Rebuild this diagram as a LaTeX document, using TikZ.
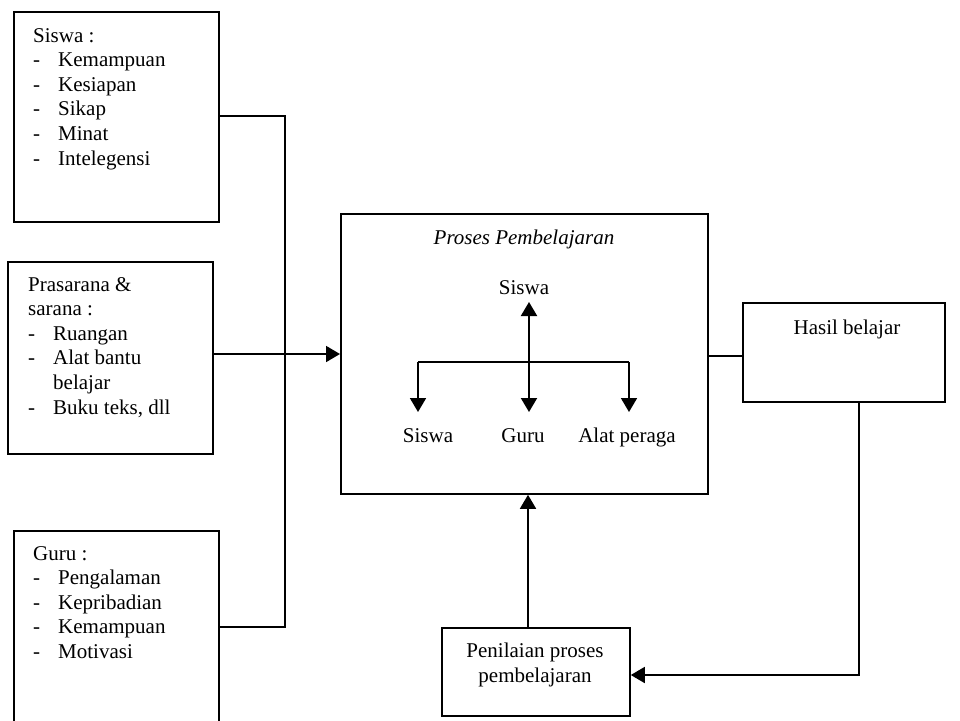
\documentclass[tikz,border=0pt]{standalone}
\usepackage{fontspec}
\setmainfont{Liberation Serif}
\usetikzlibrary{arrows.meta}
\newcommand\dashitem[1]{\makebox[25pt][l]{-}#1}
\begin{document}
\begin{tikzpicture}[x=1pt,y=-1pt,
  box/.style={draw, line width=1.8pt, rectangle, inner sep=0pt, anchor=north west},
  txt/.style={anchor=base west, inner sep=0pt, font=\fontsize{21}{24.6}\selectfont},
  ctxt/.style={anchor=base, inner sep=0pt, font=\fontsize{21}{24.6}\selectfont},
  conn/.style={line width=1.8pt},
  arr/.style={line width=1.8pt, -{Triangle[length=14pt,width=16pt]}},
  darr/.style={line width=2pt, {Triangle[length=14pt,width=16pt]}-{Triangle[length=14pt,width=16pt]}}]
\useasboundingbox (0,0) rectangle (960,720);
\clip (0,0) rectangle (960,720);
\fill[white] (0,0) rectangle (960,720);

% left boxes
\node[box, minimum width=205pt, minimum height=210pt] (siswa) at (13,11) {};
\node[box, minimum width=205pt, minimum height=192pt] (sarana) at (7,261) {};
\node[box, minimum width=205pt, minimum height=200pt] (guru) at (13,530) {};

\foreach \t [count=\i from 0] in {{Siswa :},{\dashitem{Kemampuan}},{\dashitem{Kesiapan}},{\dashitem{Sikap}},{\dashitem{Minat}},{\dashitem{Intelegensi}}}
  \node[txt] (st\i) at (33,42+24.6*\i) {\t};

\foreach \t [count=\i from 0] in {{Prasarana \&},{sarana :},{\dashitem{Ruangan}},{\dashitem{Alat bantu}},{\hspace*{25pt}belajar},{\dashitem{Buku teks, dll}}}
  \node[txt] (pt\i) at (28,291+24.6*\i) {\t};

\foreach \t [count=\i from 0] in {{Guru :},{\dashitem{Pengalaman}},{\dashitem{Kepribadian}},{\dashitem{Kemampuan}},{\dashitem{Motivasi}}}
  \node[txt] (gt\i) at (33,560+24.6*\i) {\t};

% centre box
\node[box, minimum width=367pt, minimum height=280pt] (proses) at (340,213) {};
\node[ctxt, font=\fontsize{21}{24.6}\selectfont\itshape] (title) at (524,244) {Proses Pembelajaran};
\node[ctxt] (top) at (524,294) {Siswa};
\node[ctxt] (ls) at (428,442) {Siswa};
\node[ctxt] (lg) at (523,442) {Guru};
\node[ctxt] (la) at (627,442) {Alat peraga};

\coordinate (uptip) at (529,302);
\coordinate (dntip) at (529,412);
\coordinate (bl) at (418,362);
\coordinate (br) at (629,362);
\draw[darr] (uptip) -- (dntip);
\draw[line width=1.4pt] (bl) -- (br);
\draw[arr] (bl) -- (418,412);
\draw[arr] (br) -- (629,412);

% hasil
\node[box, minimum width=202pt, minimum height=99pt] (hasil) at (742,302) {};
\node[ctxt] (ht) at (847,334) {Hasil belajar};

% penilaian
\node[box, minimum width=188pt, minimum height=88pt] (nilai) at (441,627) {};
\node[ctxt] (nt1) at (535,657) {Penilaian proses};
\node[ctxt] (nt2) at (535,682) {pembelajaran};

% connectors
\coordinate (j1) at (285,116);
\coordinate (j2) at (285,627);
\draw[conn] (siswa.east |- j1) -- (j1) -- (j2) -- (guru.east |- j2);
\draw[arr] (sarana.east |- 0,354) -- (proses.west |- 0,354);
\draw[line width=2.6pt] (277,354) -- (328,354);
\draw[conn] (proses.east |- 0,356) -- (hasil.west |- 0,356);
\coordinate (k1) at (859,675);
\draw[arr] (hasil.south -| k1) -- (k1) -- (nilai.east |- k1);
\draw[arr] (nilai.north -| 528,0) -- (proses.south -| 528,0);
\end{tikzpicture}
\end{document}
